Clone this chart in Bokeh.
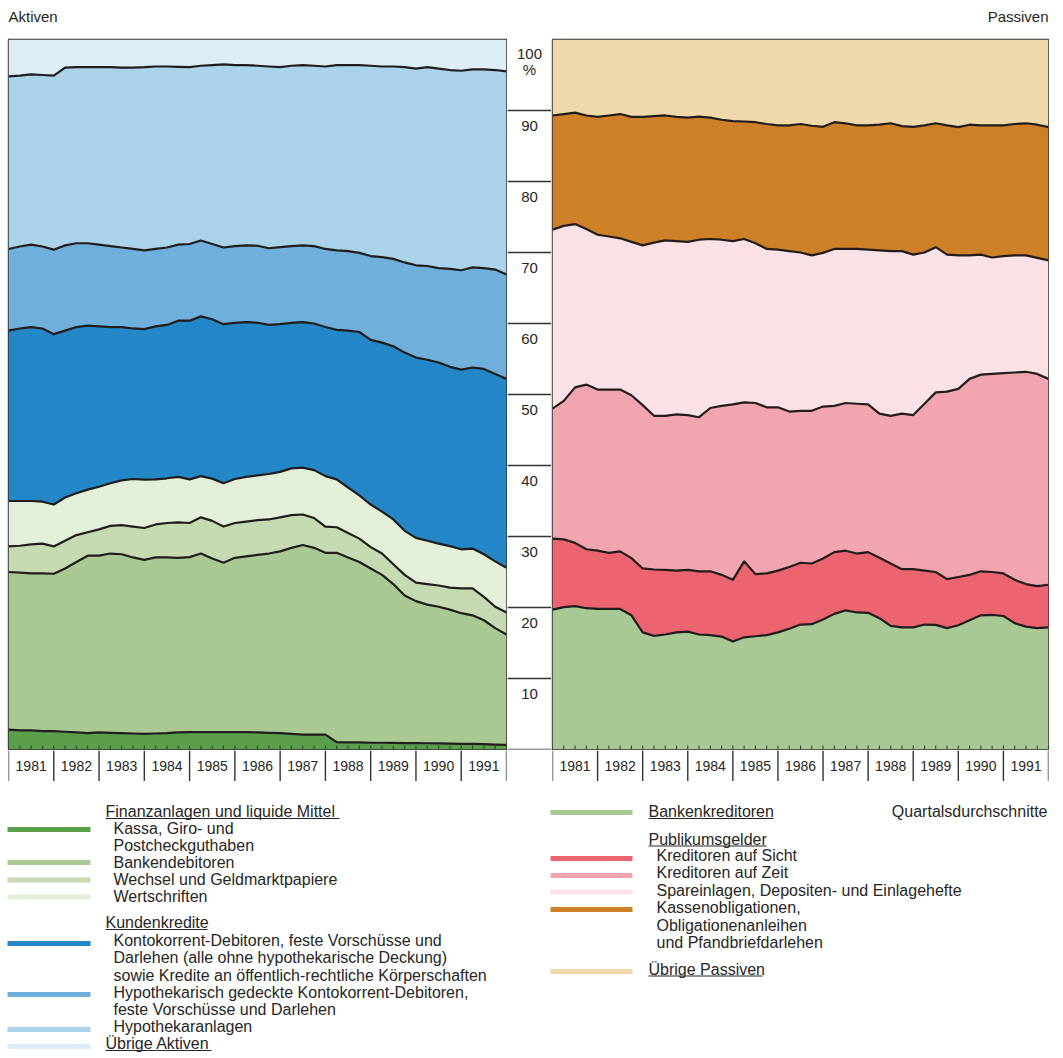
import numpy as np
from bokeh.plotting import figure
from bokeh.models import Range1d
from bokeh.layouts import column, row
from bokeh.embed import file_html
from bokeh.resources import INLINE
from bokeh.core.properties import value

# ---------------- data ----------------
quarters = [1981 + q / 4 for q in range(45)]          # quarter boundaries 1981..1992
years = list(range(1981, 1992))
year_edges = list(range(1981, 1993))
year_labels = [str(y) for y in years]
pct_ticks = [0, 10, 20, 30, 40, 50, 60, 70, 80, 90]
pct_labels = ["90", "80", "70", "60", "50", "40", "30", "20", "10"]
pct_label_values = [90, 80, 70, 60, 50, 40, 30, 20, 10]

# Aktiven: cumulative share (%) reached at the top of each layer
akt_kassa = [2.8, 2.7, 2.7, 2.6, 2.6, 2.5, 2.4, 2.3, 2.4, 2.35, 2.3, 2.25, 2.2, 2.25, 2.3,
             2.4, 2.45, 2.45, 2.45, 2.45, 2.45, 2.45, 2.4, 2.35, 2.3, 2.2, 2.1, 2.1, 2.1,
             1.05, 1.0, 1.0, 0.95, 0.95, 0.92, 0.9, 0.9, 0.88, 0.85, 0.83, 0.8, 0.78, 0.75,
             0.7, 0.66]
akt_bankendeb = [25.0, 24.9, 24.8, 24.8, 24.75, 25.5, 26.4, 27.3, 27.3, 27.6, 27.5, 27.05,
                 26.7, 27.05, 27.05, 27.0, 27.1, 27.6, 26.9, 26.3, 27.0, 27.2, 27.4, 27.6,
                 27.9, 28.4, 28.8, 28.4, 27.7, 27.7, 27.05, 26.4, 25.5, 24.6, 23.3, 21.7,
                 20.9, 20.4, 20.1, 19.7, 19.2, 18.9, 18.2, 17.1, 16.2]
akt_wechsel = [28.6, 28.7, 28.9, 29.0, 28.6, 29.4, 30.2, 30.6, 31.0, 31.5, 31.6, 31.4, 31.2,
               31.7, 31.9, 32.0, 31.9, 32.7, 32.2, 31.4, 31.9, 32.1, 32.3, 32.4, 32.7, 33.0,
               33.1, 32.6, 31.4, 31.3, 30.5, 29.7, 28.5, 27.6, 26.1, 24.6, 23.5, 23.3, 23.1,
               22.8, 22.7, 22.7, 21.5, 20.1, 19.3]
akt_wertschr = [35.0, 35.0, 35.0, 34.9, 34.5, 35.5, 36.1, 36.6, 37.0, 37.5, 37.9, 38.1, 38.0,
                38.05, 38.2, 38.4, 38.05, 38.5, 38.15, 37.5, 38.1, 38.4, 38.6, 38.8, 39.1,
                39.6, 39.7, 39.35, 38.5, 38.05, 36.9, 35.8, 34.5, 33.5, 32.4, 30.8, 29.8,
                29.4, 29.0, 28.65, 28.2, 28.3, 27.5, 26.5, 25.6]
akt_kontokorr = [59.0, 59.3, 59.5, 59.3, 58.5, 59.0, 59.5, 59.7, 59.6, 59.5, 59.5, 59.3, 59.2,
                 59.6, 59.8, 60.4, 60.4, 61.0, 60.6, 59.9, 60.1, 60.2, 60.1, 59.8, 59.9, 60.1,
                 60.2, 60.0, 59.5, 59.1, 59.0, 58.8, 57.7, 57.3, 56.8, 55.9, 55.2, 54.9, 54.5,
                 53.9, 53.5, 53.8, 53.6, 52.9, 52.2]
akt_hypged = [70.5, 70.85, 71.1, 70.85, 70.4, 71.0, 71.3, 71.3, 71.1, 70.9, 70.7, 70.5, 70.3,
              70.5, 70.7, 71.1, 71.2, 71.7, 71.2, 70.7, 70.9, 71.0, 70.95, 70.6, 70.75, 70.9,
              71.0, 70.9, 70.5, 70.3, 70.2, 69.95, 69.5, 69.35, 69.1, 68.6, 68.2, 68.1, 67.8,
              67.7, 67.5, 67.9, 67.8, 67.6, 66.9]
akt_hypanl = [94.8, 94.9, 95.1, 95.0, 94.9, 96.05, 96.1, 96.1, 96.1, 96.1, 96.05, 96.05, 96.1,
              96.2, 96.2, 96.15, 96.1, 96.3, 96.4, 96.5, 96.4, 96.4, 96.3, 96.2, 96.1, 96.3,
              96.4, 96.3, 96.2, 96.4, 96.4, 96.4, 96.3, 96.2, 96.2, 96.1, 95.9, 96.1, 95.9,
              95.7, 95.6, 95.8, 95.8, 95.7, 95.5]

# Passiven: cumulative share (%) reached at the top of each layer
pas_bankenkred = [19.7, 20.05, 20.2, 19.9, 19.8, 19.8, 19.8, 18.9, 16.5, 16.0, 16.2, 16.5,
                  16.6, 16.2, 16.1, 15.9, 15.2, 15.8, 15.95, 16.1, 16.5, 17.0, 17.6, 17.65,
                  18.3, 19.1, 19.6, 19.3, 19.25, 18.5, 17.4, 17.2, 17.2, 17.6, 17.55, 17.1,
                  17.5, 18.2, 18.9, 18.95, 18.8, 17.8, 17.3, 17.1, 17.2]
pas_sicht = [29.7, 29.6, 29.1, 28.2, 28.0, 27.7, 27.9, 26.95, 25.5, 25.35, 25.3, 25.2, 25.3,
             25.1, 25.1, 24.6, 23.9, 26.5, 24.7, 24.8, 25.2, 25.7, 26.3, 26.2, 26.9, 27.8,
             28.0, 27.6, 27.8, 27.0, 26.2, 25.4, 25.4, 25.2, 25.0, 24.0, 24.3, 24.6, 25.1,
             25.0, 24.8, 23.9, 23.3, 23.0, 23.2]
pas_zeit = [48.0, 49.1, 51.0, 51.4, 50.7, 50.7, 50.7, 49.9, 48.5, 47.0, 47.0, 47.2, 47.1,
            46.8, 48.1, 48.4, 48.6, 48.9, 48.8, 48.2, 48.2, 47.6, 47.7, 47.7, 48.3, 48.4,
            48.8, 48.7, 48.6, 47.3, 47.0, 47.3, 47.1, 48.7, 50.3, 50.4, 50.8, 52.2, 52.8,
            52.9, 53.0, 53.1, 53.2, 52.9, 52.2]
pas_spar = [73.2, 73.75, 74.0, 73.3, 72.5, 72.25, 72.0, 71.5, 71.0, 71.4, 71.7, 71.6, 71.5,
            71.8, 71.9, 71.8, 71.6, 71.9, 71.3, 70.5, 70.4, 70.2, 70.0, 69.6, 69.95, 70.5,
            70.5, 70.5, 70.4, 70.3, 70.2, 70.2, 69.7, 70.0, 70.75, 69.7, 69.6, 69.6, 69.7,
            69.3, 69.5, 69.6, 69.6, 69.25, 68.9]
pas_kassenobl = [89.3, 89.5, 89.7, 89.3, 89.1, 89.3, 89.5, 89.1, 89.1, 89.2, 89.3, 89.1, 89.0,
                 89.15, 89.0, 88.7, 88.5, 88.45, 88.35, 88.1, 87.9, 87.9, 88.1, 87.85, 87.7,
                 88.35, 88.2, 87.9, 87.9, 88.0, 88.2, 87.8, 87.7, 87.9, 88.2, 87.9, 87.65,
                 88.0, 87.9, 87.9, 87.9, 88.1, 88.2, 88.0, 87.65]

# ---------------- styles ----------------
FONT = value("Liberation Sans")
TXT = "#262626"
EDGE = "#221d1d"
FRAME = "#333333"

akt_colors = ["#5aa04b", "#aac891", "#c6dab2", "#e3efd8", "#2387c8", "#6eafdc", "#a9d3ea", "#dcedf5"]
pas_colors = ["#a8c894", "#eb6470", "#f2a5af", "#fce2e6", "#cd8028", "#efd8aa"]

CH_H = 712
LEFT_W, CENTER_W, RIGHT_W = 507, 44, 498
PAGE_W = LEFT_W + CENTER_W + RIGHT_W


def base_fig(width, height, xr, yr, **kw):
    p = figure(width=width, height=height, x_range=xr, y_range=yr,
               toolbar_location=None, output_backend="svg",
               x_axis_location=None, y_axis_location=None, **kw)
    p.xgrid.visible = False
    p.ygrid.visible = False
    p.outline_line_color = None
    p.background_fill_color = "white"
    p.border_fill_color = "white"
    return p


def chart(width, levels, colors, mb_left, mb_right):
    p = base_fig(width, CH_H, Range1d(1981, 1992), Range1d(0, 100),
                 min_border_left=mb_left, min_border_right=mb_right,
                 min_border_top=1, min_border_bottom=1)
    lower = [0] * len(quarters)
    for lvl, col in zip(levels, colors[:-1]):
        p.varea(x=quarters, y1=lower, y2=lvl, fill_color=col)
        lower = lvl
    p.varea(x=quarters, y1=lower, y2=100, fill_color=colors[-1])
    for lvl in levels:
        p.line(quarters, lvl, line_color=EDGE, line_width=2.2, line_join="round")
    p.segment(x0=quarters, y0=0, x1=quarters, y1=0.55, line_color=FRAME, line_width=1)
    p.outline_line_color = FRAME
    p.outline_line_width = 1.4
    return p


def year_strip(width, xr, mb_left, mb_right):
    p = base_fig(width, 31, xr, Range1d(0, 1),
                 min_border_left=mb_left, min_border_right=mb_right,
                 min_border_top=0, min_border_bottom=0)
    p.segment(x0=year_edges, y0=0, x1=year_edges, y1=1, line_color=FRAME, line_width=1.4)
    p.text(x=[y + 0.5 for y in years], y=[0.5] * len(years), text=year_labels,
           text_font=FONT, text_font_size="14px", text_color=TXT,
           text_align="center", text_baseline="middle")
    return p


# header with the two side titles (page pixel coordinates)
header = base_fig(PAGE_W, 38, Range1d(0, PAGE_W), Range1d(38, 0), min_border=0)
header.text(x=[8], y=[16], text=["Aktiven"], text_font=FONT, text_font_size="15px",
            text_color=TXT, text_align="left", text_baseline="middle")
header.text(x=[1048], y=[16], text=["Passiven"], text_font=FONT, text_font_size="15px",
            text_color=TXT, text_align="right", text_baseline="middle")

left = chart(LEFT_W, [akt_kassa, akt_bankendeb, akt_wechsel, akt_wertschr,
                      akt_kontokorr, akt_hypged, akt_hypanl], akt_colors, 8, 1)
right = chart(RIGHT_W, [pas_bankenkred, pas_sicht, pas_zeit, pas_spar, pas_kassenobl],
              pas_colors, 1, 1)
left_years = year_strip(LEFT_W, left.x_range, 8, 1)
right_years = year_strip(RIGHT_W, right.x_range, 1, 1)

# central percentage scale
center = base_fig(CENTER_W, CH_H, Range1d(0, 1), Range1d(0, 100),
                  min_border_left=0, min_border_right=0, min_border_top=1, min_border_bottom=1)
center.segment(x0=[0] * len(pct_ticks), y0=pct_ticks, x1=[1] * len(pct_ticks), y1=pct_ticks,
               line_color=FRAME, line_width=1.3)
LABEL_DROP = 2.2
center.text(x=[0.5] * len(pct_labels), y=[v - LABEL_DROP for v in pct_label_values],
            text=pct_labels, text_font=FONT, text_font_size="15px", text_color=TXT,
            text_align="center", text_baseline="middle")
center.text(x=[0.5, 0.5], y=[100 - 2.0, 100 - 4.2], text=["100", "%"], text_font=FONT,
            text_font_size="15px", text_color=TXT, text_align="center", text_baseline="middle")

# ---------------- legend (page pixel coordinates) ----------------
LEG_TOP = 38 + CH_H + 31
leg = base_fig(PAGE_W, 1058 - LEG_TOP, Range1d(0, PAGE_W), Range1d(1058, LEG_TOP), min_border=0)

sw_left_y = [829, 862, 879.5, 896.5, 943, 994, 1029, 1046]
leg.segment(x0=[7] * 8, y0=sw_left_y, x1=[90] * 8, y1=sw_left_y,
            line_color=akt_colors, line_width=5)
sw_right_y = [812, 858, 875, 891.5, 909, 971]
leg.segment(x0=[550] * 6, y0=sw_right_y, x1=[632] * 6, y1=sw_right_y,
            line_color=pas_colors, line_width=5)

heads = [("Finanzanlagen und liquide Mittel", 105, 811, 234),
         ("Kundenkredite", 105, 922, 102),
         ("Übrige Aktiven", 105, 1043, 106),
         ("Bankenkreditoren", 648, 811, 125),
         ("Publikumsgelder", 648, 838.5, 118),
         ("Übrige Passiven", 648, 968.5, 114)]
leg.text(x=[h[1] for h in heads], y=[h[2] for h in heads], text=[h[0] for h in heads],
         text_font=FONT, text_font_size="16px", text_color=TXT,
         text_align="left", text_baseline="middle")
leg.segment(x0=[h[1] for h in heads], y0=[h[2] + 7 for h in heads],
            x1=[h[1] + h[3] for h in heads], y1=[h[2] + 7 for h in heads],
            line_color=TXT, line_width=1)

items = [("Kassa, Giro- und", 113, 827.5),
         ("Postcheckguthaben", 113, 844.5),
         ("Bankendebitoren", 113, 861.5),
         ("Wechsel und Geldmarktpapiere", 113, 879),
         ("Wertschriften", 113, 896),
         ("Kontokorrent-Debitoren, feste Vorschüsse und", 113, 939.5),
         ("Darlehen (alle ohne hypothekarische Deckung)", 113, 957),
         ("sowie Kredite an öffentlich-rechtliche Körperschaften", 113, 974.5),
         ("Hypothekarisch gedeckte Kontokorrent-Debitoren,", 113, 992),
         ("feste Vorschüsse und Darlehen", 113, 1009),
         ("Hypothekaranlagen", 113, 1026),
         ("Kreditoren auf Sicht", 656, 855),
         ("Kreditoren auf Zeit", 656, 872),
         ("Spareinlagen, Depositen- und Einlagehefte", 656, 889.5),
         ("Kassenobligationen,", 656, 907),
         ("Obligationenanleihen", 656, 924.5),
         ("und Pfandbriefdarlehen", 656, 941.5)]
leg.text(x=[i[1] for i in items], y=[i[2] for i in items], text=[i[0] for i in items],
         text_font=FONT, text_font_size="16px", text_color=TXT,
         text_align="left", text_baseline="middle")
leg.text(x=[1047], y=[811], text=["Quartalsdurchschnitte"], text_font=FONT,
         text_font_size="16px", text_color=TXT, text_align="right", text_baseline="middle")

layout = column(header,
                row(column(left, left_years), center, column(right, right_years)),
                leg)

open("out.html", "w").write(file_html(layout, INLINE))
